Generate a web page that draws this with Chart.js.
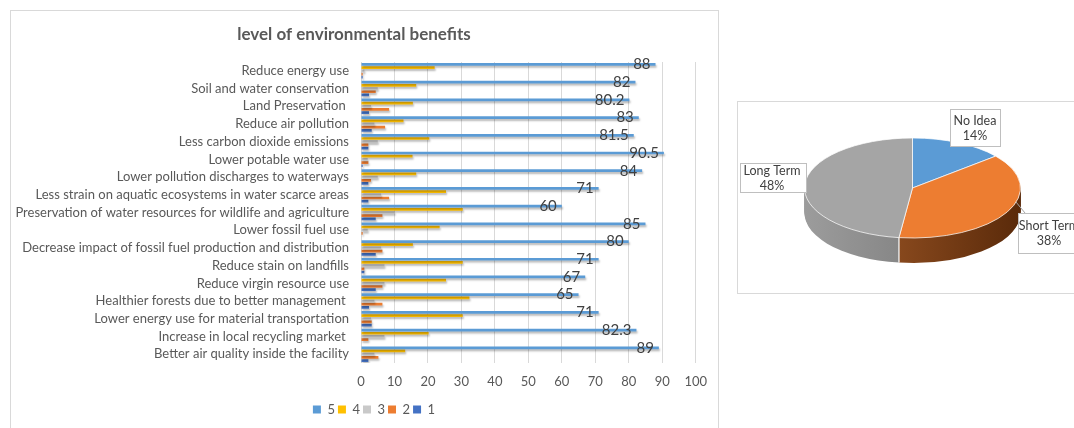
<!DOCTYPE html>
<html>
<head>
<meta charset="utf-8">
<title>level of environmental benefits</title>
<script src="https://cdn.jsdelivr.net/npm/chart.js@4.4.1/dist/chart.umd.min.js"></script>
<style>
  body { margin: 0; background: #fff; width: 1074px; height: 428px; overflow: hidden; position: relative; }
  #barBox { position: absolute; left: 10px; top: 10px; width: 707px; height: 420px; border: 1px solid #d9d9d9; }
  #pieBox { position: absolute; left: 737px; top: 101px; width: 345px; height: 191px; border: 1px solid #d9d9d9; }
  canvas { position: absolute; left: 0; top: 0; }
</style>
</head>
<body>
<div id="barBox"><canvas id="barChart" width="707" height="415"></canvas></div>
<div id="pieBox"><canvas id="pieChart" width="337" height="190"></canvas></div>
<script>
// benefit categories (top to bottom)
const benefits = [
  "Reduce energy use",
  "Soil and water conservation",
  "Land Preservation ",
  "Reduce air pollution",
  "Less carbon dioxide emissions",
  "Lower potable water use",
  "Lower pollution discharges to waterways",
  "Less strain on aquatic ecosystems in water scarce areas",
  "Preservation of water resources for wildlife and agriculture",
  "Lower fossil fuel use",
  "Decrease impact of fossil fuel production and distribution",
  "Reduce stain on landfills",
  "Reduce virgin resource use",
  "Healthier forests due to better management ",
  "Lower energy use for material transportation",
  "Increase in local recycling market ",
  "Better air quality inside the facility"
];

// level 5..1 values per benefit
const level5 = [88, 82, 80.2, 83, 81.5, 90.5, 84, 71, 60, 85, 80, 71, 67, 65, 71, 82.3, 89];
const level4 = [22, 16.5, 15.5, 12.7, 20.4, 15.4, 16.5, 25.4, 30.4, 23.5, 15.5, 30.4, 25.4, 32.4, 30.4, 20.2, 13.2];
const level3 = [1, 5, 3, 4, 5, 2, 5, 6, 10, 2, 6, 7, 7, 4, 3, 7, 4];
const level2 = [0.5, 4.4, 8.4, 7.2, 2.2, 2.2, 3, 8.4, 6.4, 0.5, 6.4, 1, 6.4, 6.4, 3.2, 2.2, 5.2];
const level1 = [0.5, 2.4, 2.4, 3.2, 2.2, 0.5, 2.2, 2.2, 4.4, 0, 4.4, 1, 4.4, 2.4, 3.2, 0, 2.2];
const levelNames = ["5", "4", "3", "2", "1"];
const xTicks = [0, 10, 20, 30, 40, 50, 60, 70, 80, 90, 100];

// pie: term of benefits
const termLabels = ["No Idea", "Short Term", "Long Term"];
const termValues = [14, 38, 48];

const FONT = "Lato, 'Open Sans', sans-serif";
const TEXT = "#595959";

// shadow under the bars like the excel glow
const barShadow = {
  id: "barShadow",
  beforeDatasetsDraw(chart) {
    const c = chart.ctx;
    c.save();
    c.shadowColor = "rgba(0,0,0,0.28)";
    c.shadowBlur = 2;
    c.shadowOffsetX = 1;
    c.shadowOffsetY = 2;
  },
  afterDatasetsDraw(chart) {
    chart.ctx.restore();
  }
};

// value labels on the level 5 bars
const barValueLabels = {
  id: "barValueLabels",
  afterDatasetsDraw(chart) {
    const ctx = chart.ctx;
    const meta = chart.getDatasetMeta(0);
    ctx.save();
    ctx.font = "15px " + FONT;
    ctx.fillStyle = "#404040";
    ctx.textAlign = "right";
    ctx.textBaseline = "middle";
    meta.data.forEach((bar, i) => {
      ctx.fillText(String(level5[i]), bar.x - 5, bar.y);
    });
    ctx.restore();
  }
};

// nudge the legend a little to the right, as in the original
const legendShift = {
  id: "legendShift",
  afterLayout(chart) {
    if (chart.legend) {
      chart.legend.left += 20;
      chart.legend.right += 20;
    }
  }
};

new Chart(document.getElementById("barChart"), {
  type: "bar",
  data: {
    labels: benefits,
    datasets: [
      { label: levelNames[0], data: level5, backgroundColor: "#5b9bd5" },
      { label: levelNames[1], data: level4, backgroundColor: "#ffc000" },
      { label: levelNames[2], data: level3, backgroundColor: "#c9c9c9" },
      { label: levelNames[3], data: level2, backgroundColor: "#ed7d31" },
      { label: levelNames[4], data: level1, backgroundColor: "#4472c4" }
    ]
  },
  options: {
    indexAxis: "y",
    responsive: false,
    animation: false,
    categoryPercentage: 0.9,
    barPercentage: 0.85,
    layout: { padding: { left: 0, right: 21, top: 0, bottom: 0 } },
    scales: {
      x: {
        min: 0,
        max: 100,
        afterBuildTicks: (scale) => { scale.ticks = xTicks.map((v) => ({ value: v })); },
        afterFit: (scale) => { scale.height = 37; },
        grid: { color: "#d9d9d9", drawTicks: false },
        border: { display: false },
        ticks: { color: TEXT, font: { family: FONT, size: 13 }, padding: 11 }
      },
      y: {
        afterFit: (scale) => { scale.width = 350; },
        grid: { display: false, drawTicks: false },
        border: { display: false },
        ticks: { color: TEXT, font: { family: FONT, size: 13 }, padding: 12, autoSkip: false }
      }
    },
    plugins: {
      title: {
        display: true,
        text: "level of environmental benefits",
        color: TEXT,
        font: { family: FONT, size: 17, weight: "bold" },
        padding: { top: 13, bottom: 17.6 }
      },
      legend: {
        position: "bottom",
        labels: { color: TEXT, boxWidth: 8, boxHeight: 8, padding: 3, font: { family: FONT, size: 13 } }
      },
      tooltip: { enabled: false }
    }
  },
  plugins: [barShadow, barValueLabels, legendShift]
});

// flattened 3d pie
const DEPTH = 25;
const SQUASH = 0.463;
const sideColors = [["#3d6c99", "#2f5680"], ["#8a4a1e", "#5a2a0a"], ["#9c9c9c", "#6c6c6c"]];

function squash(ctx, cx, cy) {
  ctx.translate(cx, cy);
  ctx.scale(1, SQUASH);
  ctx.translate(-cx, -cy);
}

const pie3d = {
  id: "pie3d",
  beforeDatasetsDraw(chart) {
    const ctx = chart.ctx;
    const arcs = chart.getDatasetMeta(0).data;
    const cx = arcs[0].x, cy = arcs[0].y, r = arcs[0].outerRadius;
    for (let d = DEPTH; d > 0; d--) {
      ctx.save();
      ctx.translate(0, d);
      squash(ctx, cx, cy);
      arcs.forEach((arc, i) => {
        const g = ctx.createLinearGradient(cx - r, 0, cx + r, 0);
        if (i === 2) {
          g.addColorStop(0, sideColors[i][0]);
          g.addColorStop(1, sideColors[i][1]);
        } else {
          g.addColorStop(0.4, sideColors[i][0]);
          g.addColorStop(1, sideColors[i][1]);
        }
        ctx.beginPath();
        ctx.moveTo(cx, cy);
        ctx.arc(cx, cy, arc.outerRadius, arc.startAngle, arc.endAngle);
        ctx.closePath();
        ctx.fillStyle = g;
        ctx.fill();
      });
      ctx.restore();
    }
    // white seams on the front wall
    ctx.save();
    ctx.strokeStyle = "#ffffff";
    ctx.lineWidth = 1.2;
    arcs.forEach((arc) => {
      const a = arc.startAngle;
      if (Math.sin(a) > 0) {
        const px = cx + r * Math.cos(a);
        const py = cy + r * Math.sin(a) * SQUASH;
        ctx.beginPath();
        ctx.moveTo(px, py);
        ctx.lineTo(px, py + DEPTH);
        ctx.stroke();
      }
    });
    ctx.restore();
    ctx.save();
    squash(ctx, cx, cy);
  },
  afterDatasetsDraw(chart) {
    const ctx = chart.ctx;
    ctx.restore();
    const total = termValues.reduce((a, b) => a + b, 0);
    // callout boxes: [left, top, width, height, text centre x]
    const boxes = [[212, 7, 50, 37, 237], [280, 111, 72, 40, 311], [2, 61, 66, 29, 34]];
    ctx.save();
    // leader line for short term
    ctx.strokeStyle = "#a6a6a6";
    ctx.lineWidth = 1;
    ctx.beginPath();
    ctx.moveTo(278, 100);
    ctx.lineTo(287, 111);
    ctx.stroke();
    ctx.font = "12.5px " + FONT;
    ctx.textAlign = "center";
    ctx.textBaseline = "middle";
    termLabels.forEach((lab, i) => {
      const b = boxes[i];
      ctx.fillStyle = "#ffffff";
      ctx.fillRect(b[0], b[1], b[2], b[3]);
      ctx.strokeStyle = "#bfbfbf";
      ctx.strokeRect(b[0] + 0.5, b[1] + 0.5, b[2], b[3]);
      ctx.fillStyle = "#404040";
      const mid = b[1] + b[3] / 2;
      ctx.fillText(lab, b[4], mid - 7);
      ctx.fillText(Math.round(termValues[i] / total * 100) + "%", b[4], mid + 8);
    });
    ctx.restore();
  }
};

new Chart(document.getElementById("pieChart"), {
  type: "pie",
  data: {
    labels: termLabels,
    datasets: [{
      data: termValues,
      backgroundColor: ["#5b9bd5", "#ed7d31", "#a5a5a5"],
      borderColor: "#ffffff",
      borderWidth: 1
    }]
  },
  options: {
    responsive: false,
    animation: false,
    radius: 108,
    layout: { padding: { left: 12, right: 0, top: 0, bottom: 18 } },
    plugins: {
      legend: { display: false },
      tooltip: { enabled: false }
    }
  },
  plugins: [pie3d]
});
</script>
</body>
</html>
